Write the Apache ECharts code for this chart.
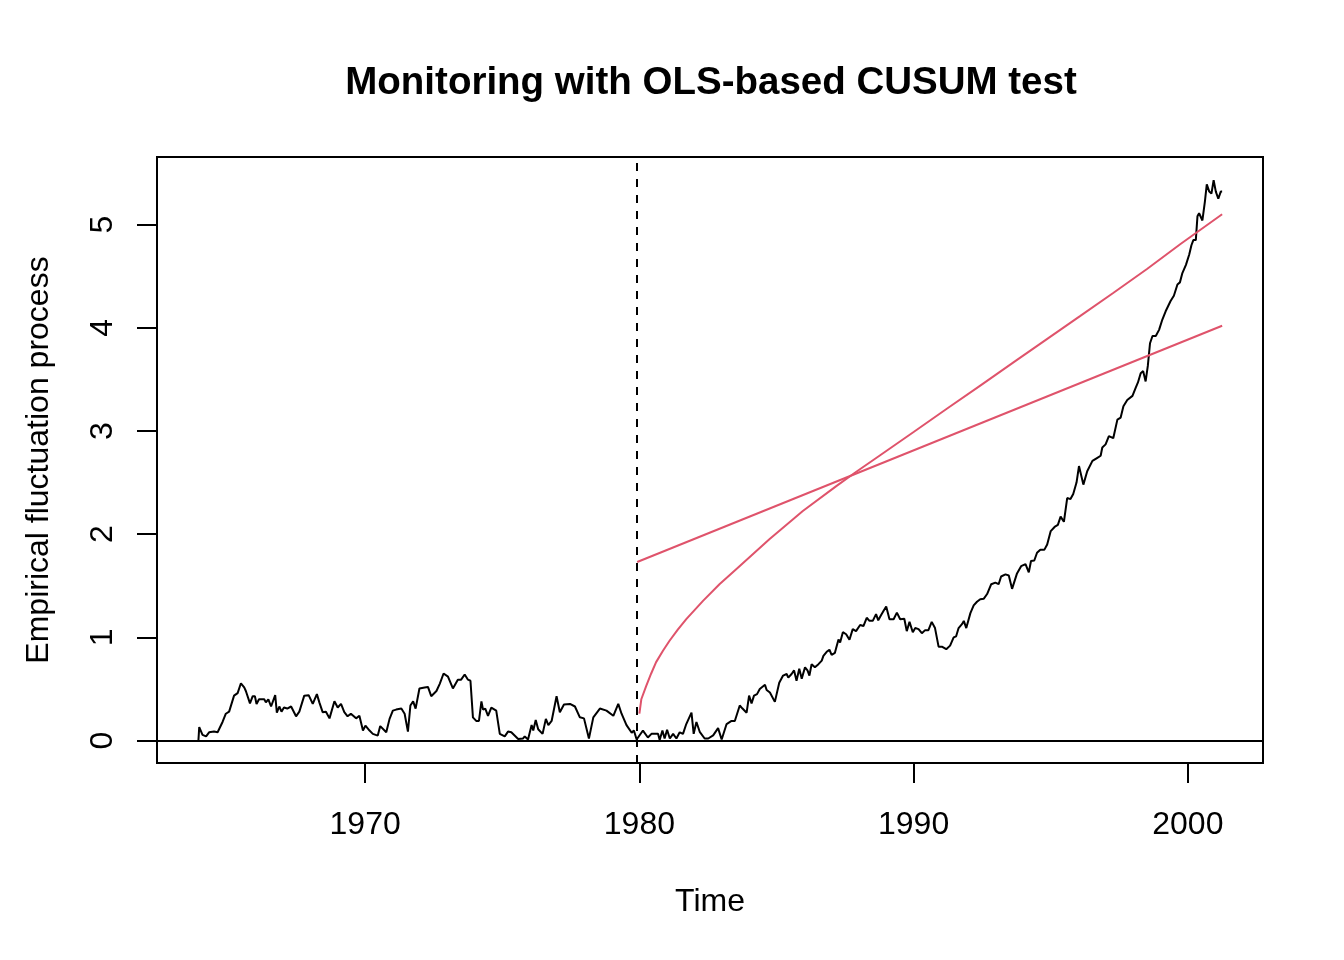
<!DOCTYPE html>
<html>
<head>
<meta charset="utf-8">
<title>Monitoring with OLS-based CUSUM test</title>
<script src="https://cdn.jsdelivr.net/npm/echarts@6/dist/echarts.min.js"></script>
<style>
  html, body { margin: 0; padding: 0; background: #fff; }
  #chart { width: 1344px; height: 960px; }
</style>
</head>
<body>
<div id="chart"></div>
<script>
// empirical fluctuation process, [time, value]
const process = [
  [1963.92, 0.00], [1963.95, 0.13], [1964.07, 0.055], [1964.2, 0.04], [1964.31, 0.08],
  [1964.49, 0.087], [1964.62, 0.08], [1964.8, 0.18], [1964.92, 0.26], [1965.04, 0.28],
  [1965.22, 0.435], [1965.35, 0.46], [1965.47, 0.555], [1965.59, 0.515], [1965.65, 0.48],
  [1965.8, 0.36], [1965.9, 0.43], [1965.98, 0.43], [1966.04, 0.355], [1966.13, 0.40],
  [1966.32, 0.40], [1966.38, 0.37], [1966.47, 0.40], [1966.57, 0.33], [1966.72, 0.44],
  [1966.78, 0.27], [1966.87, 0.33], [1966.95, 0.28], [1967.04, 0.32], [1967.16, 0.31],
  [1967.3, 0.33], [1967.48, 0.235], [1967.6, 0.28], [1967.78, 0.435], [1967.94, 0.44],
  [1968.09, 0.355], [1968.24, 0.45], [1968.33, 0.37], [1968.45, 0.275], [1968.57, 0.28],
  [1968.7, 0.215], [1968.88, 0.38], [1969.0, 0.32], [1969.12, 0.355], [1969.24, 0.275],
  [1969.36, 0.235], [1969.48, 0.26], [1969.67, 0.215], [1969.79, 0.24], [1969.92, 0.097],
  [1970.01, 0.145], [1970.16, 0.097], [1970.28, 0.065], [1970.46, 0.048], [1970.55, 0.14],
  [1970.77, 0.08], [1970.89, 0.21], [1971.01, 0.29], [1971.13, 0.30], [1971.32, 0.31],
  [1971.44, 0.26], [1971.56, 0.087], [1971.65, 0.34], [1971.75, 0.38], [1971.84, 0.31],
  [1971.98, 0.505], [1972.17, 0.515], [1972.29, 0.52], [1972.41, 0.43], [1972.6, 0.48],
  [1972.72, 0.55], [1972.86, 0.65], [1973.02, 0.62], [1973.2, 0.505], [1973.38, 0.59],
  [1973.5, 0.59], [1973.63, 0.64], [1973.75, 0.59], [1973.84, 0.58], [1973.93, 0.225],
  [1974.05, 0.19], [1974.15, 0.19], [1974.24, 0.38], [1974.3, 0.30], [1974.38, 0.31],
  [1974.48, 0.24], [1974.6, 0.32], [1974.78, 0.29], [1974.91, 0.065], [1975.09, 0.04],
  [1975.21, 0.087], [1975.33, 0.08], [1975.58, 0.015], [1975.76, 0.02], [1975.82, 0.04],
  [1975.94, 0.01], [1976.07, 0.15], [1976.13, 0.097], [1976.22, 0.20], [1976.31, 0.11],
  [1976.47, 0.065], [1976.59, 0.21], [1976.68, 0.15], [1976.8, 0.19], [1976.98, 0.43],
  [1977.1, 0.275], [1977.25, 0.35], [1977.47, 0.355], [1977.65, 0.33], [1977.83, 0.225],
  [1977.98, 0.215], [1978.16, 0.02], [1978.32, 0.225], [1978.56, 0.31], [1978.8, 0.29],
  [1979.05, 0.24], [1979.23, 0.355], [1979.35, 0.26], [1979.53, 0.15], [1979.72, 0.075],
  [1979.8, 0.097], [1979.9, 0.01], [1980.13, 0.097], [1980.31, 0.03], [1980.44, 0.065],
  [1980.68, 0.065], [1980.74, 0.005], [1980.84, 0.097], [1980.92, 0.02], [1981.01, 0.105],
  [1981.11, 0.02], [1981.23, 0.065], [1981.35, 0.02], [1981.47, 0.08], [1981.59, 0.065],
  [1981.71, 0.16], [1981.9, 0.27], [1981.98, 0.065], [1982.08, 0.18], [1982.2, 0.085],
  [1982.38, 0.02], [1982.51, 0.02], [1982.69, 0.05], [1982.87, 0.12], [1983.0, 0.01],
  [1983.18, 0.16], [1983.36, 0.19], [1983.48, 0.19], [1983.66, 0.34], [1983.76, 0.31],
  [1983.91, 0.27], [1984.0, 0.435], [1984.09, 0.36], [1984.18, 0.435], [1984.29, 0.45],
  [1984.39, 0.50], [1984.58, 0.54], [1984.64, 0.49], [1984.76, 0.465], [1984.94, 0.375],
  [1985.0, 0.39], [1985.1, 0.56], [1985.24, 0.63], [1985.37, 0.645], [1985.43, 0.61],
  [1985.55, 0.645], [1985.64, 0.68], [1985.73, 0.58], [1985.83, 0.695], [1985.92, 0.60],
  [1986.04, 0.71], [1986.13, 0.68], [1986.2, 0.63], [1986.28, 0.74], [1986.4, 0.71],
  [1986.53, 0.74], [1986.65, 0.775], [1986.71, 0.82], [1986.83, 0.86], [1986.93, 0.88],
  [1987.01, 0.83], [1987.13, 0.85], [1987.26, 0.98], [1987.32, 0.95], [1987.42, 1.05],
  [1987.54, 1.03], [1987.66, 0.977], [1987.78, 1.08], [1987.9, 1.06], [1988.05, 1.12],
  [1988.17, 1.11], [1988.29, 1.19], [1988.39, 1.16], [1988.51, 1.16], [1988.63, 1.225],
  [1988.71, 1.165], [1988.8, 1.21], [1988.9, 1.255], [1989.0, 1.30], [1989.12, 1.175],
  [1989.27, 1.175], [1989.39, 1.24], [1989.51, 1.175], [1989.66, 1.18], [1989.75, 1.06],
  [1989.85, 1.15], [1989.97, 1.05], [1990.06, 1.09], [1990.18, 1.08], [1990.3, 1.04],
  [1990.42, 1.07], [1990.54, 1.07], [1990.66, 1.15], [1990.78, 1.09], [1990.91, 0.91],
  [1991.03, 0.91], [1991.19, 0.885], [1991.33, 0.92], [1991.46, 1.0], [1991.55, 1.01],
  [1991.64, 1.09], [1991.77, 1.13], [1991.83, 1.16], [1991.92, 1.09], [1992.07, 1.235],
  [1992.19, 1.31], [1992.31, 1.345], [1992.43, 1.37], [1992.56, 1.375], [1992.68, 1.42],
  [1992.83, 1.515], [1992.98, 1.53], [1993.1, 1.515], [1993.19, 1.59], [1993.35, 1.61],
  [1993.47, 1.60], [1993.59, 1.47], [1993.77, 1.62], [1993.92, 1.69], [1994.08, 1.71],
  [1994.2, 1.63], [1994.28, 1.74], [1994.4, 1.745], [1994.5, 1.82], [1994.62, 1.85],
  [1994.77, 1.85], [1994.87, 1.90], [1995.0, 2.03], [1995.14, 2.07], [1995.26, 2.09],
  [1995.36, 2.17], [1995.48, 2.12], [1995.6, 2.35], [1995.72, 2.34], [1995.82, 2.39],
  [1995.94, 2.50], [1996.03, 2.66], [1996.19, 2.48], [1996.33, 2.61], [1996.52, 2.71],
  [1996.7, 2.74], [1996.82, 2.76], [1996.88, 2.84], [1997.0, 2.87], [1997.12, 2.95],
  [1997.28, 2.93], [1997.43, 3.11], [1997.55, 3.13], [1997.65, 3.24], [1997.79, 3.30],
  [1997.98, 3.34], [1998.1, 3.42], [1998.18, 3.47], [1998.28, 3.56], [1998.37, 3.58],
  [1998.46, 3.48], [1998.54, 3.63], [1998.62, 3.85], [1998.71, 3.92], [1998.83, 3.92],
  [1998.95, 3.98], [1999.07, 4.08], [1999.19, 4.16], [1999.37, 4.26], [1999.49, 4.31],
  [1999.62, 4.42], [1999.71, 4.44], [1999.8, 4.53], [1999.93, 4.61], [2000.05, 4.71],
  [2000.13, 4.80], [2000.2, 4.85], [2000.29, 4.85], [2000.35, 5.08], [2000.41, 5.11],
  [2000.53, 5.04], [2000.62, 5.22], [2000.69, 5.39], [2000.78, 5.32], [2000.86, 5.30],
  [2000.94, 5.43], [2001.02, 5.32], [2001.11, 5.25], [2001.2, 5.32], [2001.25, 5.32]
];

// curved boundary
const boundary = [
  [1980.0, 0.26], [1980.07, 0.40], [1980.25, 0.53], [1980.43, 0.65], [1980.61, 0.76],
  [1980.86, 0.87], [1981.1, 0.967], [1981.4, 1.075], [1981.71, 1.177], [1982.32, 1.354],
  [1982.92, 1.515], [1983.53, 1.66], [1984.74, 1.95], [1985.96, 2.224], [1987.18, 2.466],
  [1987.91, 2.605], [1988.78, 2.765], [1990.0, 2.99], [1991.21, 3.215], [1992.43, 3.44],
  [1993.64, 3.665], [1994.86, 3.89], [1996.08, 4.115], [1997.29, 4.34], [1998.51, 4.57],
  [1999.72, 4.81], [2001.25, 5.10]
];

// straight boundary
const linearBoundary = [[1979.92, 1.73], [2001.25, 4.02]];

const monitorStart = 1979.92;
const xTicks = [1970, 1980, 1990, 2000];
const yTicks = [0, 1, 2, 3, 4, 5];
const xRange = [1962.41, 2002.74];
const yRange = [-0.2175, 5.655];

const FONT = "'Liberation Sans', Arial, Helvetica, sans-serif";
const RED = "#DF536B";

function init() {
  const chart = echarts.init(document.getElementById("chart"));

  const option = {
    animation: false,
    backgroundColor: "#fff",
    title: {
      text: "Monitoring with OLS-based CUSUM test",
      left: 706,
      textAlign: "center",
      top: 59,
      textStyle: {
        fontFamily: FONT,
        fontSize: 38.5,
        fontWeight: "bold",
        color: "#000",
      },
    },
    grid: {
      left: 157,
      top: 157,
      width: 1106,
      height: 606,
      show: true,
      borderColor: "#000",
      borderWidth: 2,
      backgroundColor: "transparent",
    },
    xAxis: {
      type: "value",
      min: xRange[0],
      max: xRange[1],
      name: "Time",
      nameLocation: "middle",
      nameGap: 123,
      nameTextStyle: { fontFamily: FONT, fontSize: 32, color: "#000" },
      axisLine: { show: false, onZero: false },
      splitLine: { show: false },
      axisTick: {
        show: true,
        customValues: xTicks,
        length: 20,
        lineStyle: { color: "#000", width: 2 },
      },
      axisLabel: {
        customValues: xTicks,
        formatter: (v) => String(v),
        margin: 46,
        fontFamily: FONT,
        fontSize: 32,
        color: "#000",
      },
    },
    yAxis: {
      type: "value",
      min: yRange[0],
      max: yRange[1],
      name: "Empirical fluctuation process",
      nameLocation: "middle",
      nameGap: 102,
      nameTextStyle: { fontFamily: FONT, fontSize: 32, color: "#000" },
      axisLine: { show: false, onZero: false },
      splitLine: { show: false },
      axisTick: {
        show: true,
        customValues: yTicks,
        length: 20,
        lineStyle: { color: "#000", width: 2 },
      },
      axisLabel: {
        customValues: yTicks,
        formatter: (v) => String(v),
        rotate: 90,
        margin: 38,
        fontFamily: FONT,
        fontSize: 32,
        color: "#000",
      },
    },
    series: [
      {
        name: "process",
        type: "line",
        data: process,
        showSymbol: false,
        smooth: false,
        lineStyle: { color: "#000", width: 2 },
        itemStyle: { color: "#000" },
        markLine: {
          silent: true,
          symbol: "none",
          label: { show: false },
          data: [
            { yAxis: 0, lineStyle: { color: "#000", width: 2, type: "solid" } },
            { xAxis: monitorStart, lineStyle: { color: "#000", width: 2, type: [8, 8] } },
          ],
        },
      },
      {
        name: "boundary",
        type: "line",
        data: boundary,
        showSymbol: false,
        smooth: false,
        lineStyle: { color: RED, width: 2 },
        itemStyle: { color: RED },
      },
      {
        name: "linear boundary",
        type: "line",
        data: linearBoundary,
        showSymbol: false,
        lineStyle: { color: RED, width: 2 },
        itemStyle: { color: RED },
      },
    ],
  };

  chart.setOption(option);
  return chart;
}

init();
</script>
</body>
</html>
